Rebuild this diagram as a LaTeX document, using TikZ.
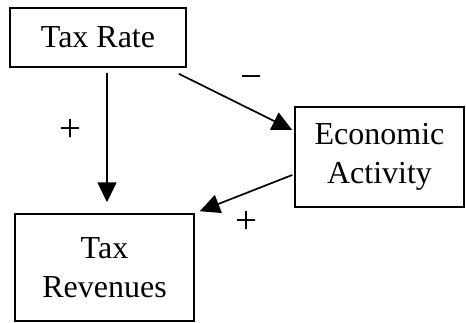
\documentclass[tikz,border=0pt]{standalone}
\usepackage{fontspec}
\setmainfont{Liberation Serif}
\usetikzlibrary{arrows.meta}
\begin{document}
\begin{tikzpicture}[x=1pt,y=-1pt,
  box/.style={draw=black,line width=1.5pt,rectangle,inner sep=0pt,align=center,
    font=\fontsize{32}{38.5}\selectfont},
  link/.style={line width=1.7pt,-{Triangle[length=20pt,width=19pt]}},
  sign/.style={inner sep=0pt,font=\fontsize{39}{44}\selectfont}]
\useasboundingbox (0,0) rectangle (466,322);

% the three quantities
\node[box,minimum width=176pt,minimum height=59pt] (rate) at (98,37.5) {Tax Rate};
\node[box,minimum width=169pt,minimum height=100pt] (econ) at (379.5,157) {Economic\\Activity};
\node[box,minimum width=179pt,minimum height=107pt] (rev) at (104.5,267.5) {Tax\\Revenues};

% causal links
\draw[link] ([xshift=9pt,yshift=-5pt]rate.south) -- ([xshift=2.5pt,yshift=11pt]rev.north);
\draw[link] ([xshift=-8pt,yshift=-6pt]rate.south east) -- ([xshift=-2pt,yshift=27pt]econ.west);
\draw[link] ([xshift=-2pt,yshift=-18pt]econ.west) -- ([xshift=5pt,yshift=2pt]rev.north east);

% signs of the effects
\node[sign] (s1) at (70,130) {+};
\node[sign] (s2) at (251,83) {−};
\node[sign] (s3) at (246,222) {+};
\end{tikzpicture}
\end{document}
